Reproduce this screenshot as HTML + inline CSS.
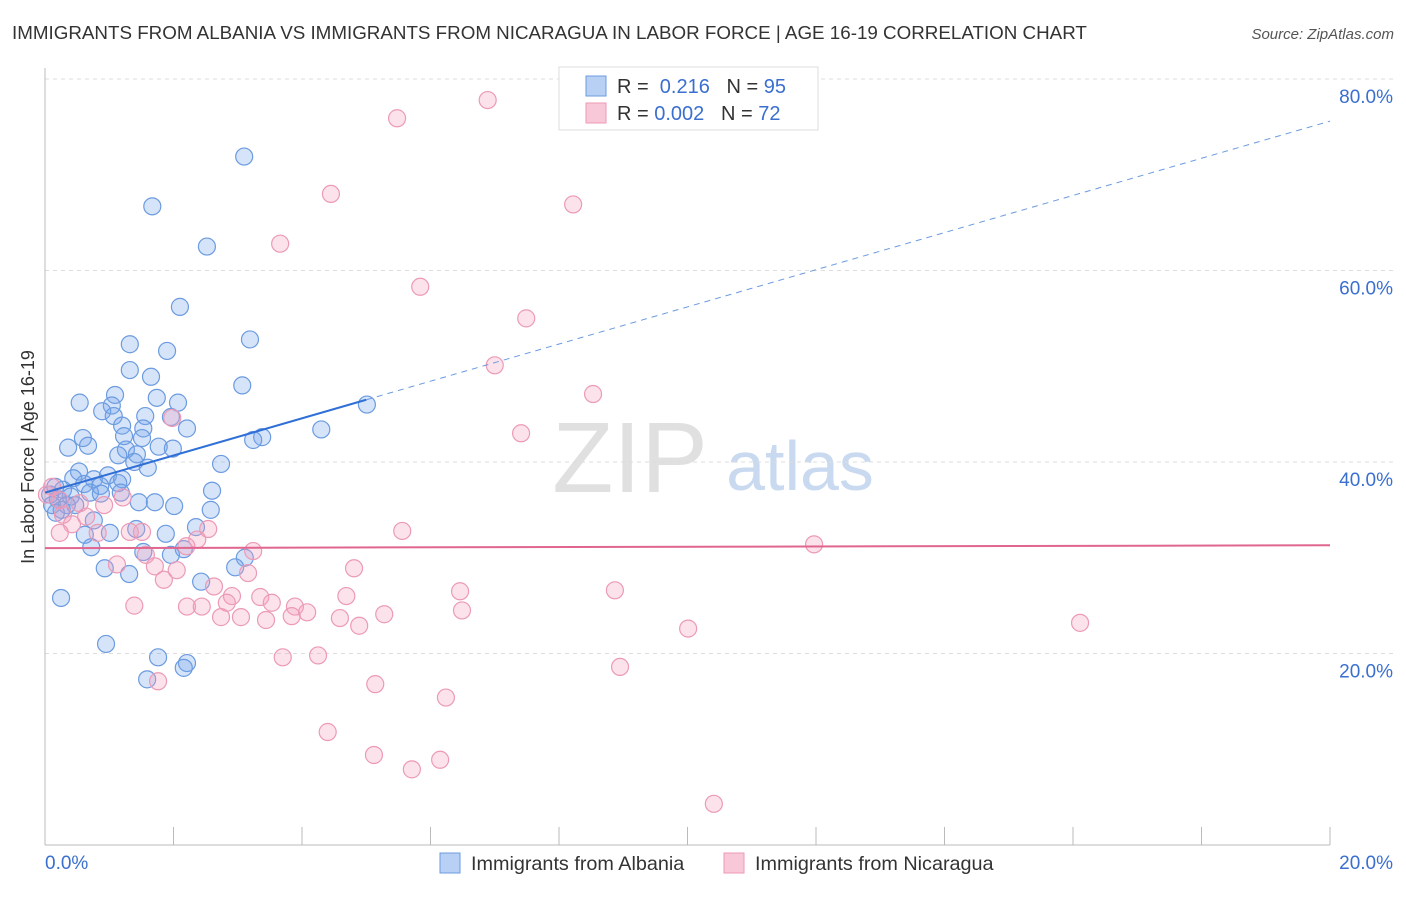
<!DOCTYPE html>
<html><head><meta charset="utf-8">
<style>
body{margin:0;background:#fff;font-family:"Liberation Sans",sans-serif;}
svg text{font-family:"Liberation Sans",sans-serif;}
</style></head>
<body>
<svg id="chart" width="1406" height="892" xmlns="http://www.w3.org/2000/svg">
<text x="12" y="39" font-size="18.8" fill="#333">IMMIGRANTS FROM ALBANIA VS IMMIGRANTS FROM NICARAGUA IN LABOR FORCE | AGE 16-19 CORRELATION CHART</text>
<text x="1394" y="39" font-size="15" fill="#555" font-style="italic" text-anchor="end">Source: ZipAtlas.com</text>
<text x="630" y="492" font-size="100" fill="#e0e0e0" font-family="Liberation Serif" text-anchor="middle">ZIP</text>
<text x="800" y="490" font-size="70" fill="#c9daf0" text-anchor="middle">atlas</text>
<g id="grid"></g><g id="axes"></g><g id="marks"></g>
<text transform="translate(34,457) rotate(-90)" font-size="18" fill="#333" text-anchor="middle">In Labor Force | Age 16-19</text>
<g>
<rect x="559" y="67" width="259" height="63" fill="#fff" stroke="#ddd"/>
<rect x="586" y="76" width="20" height="20" fill="#b8d0f4" stroke="#6b9be0"/>
<rect x="586" y="103" width="20" height="20" fill="#f9c8d8" stroke="#ec9ab6"/>
<text x="617" y="93" font-size="20" fill="#333">R = <tspan fill="#3a6fd0">&#160;0.216</tspan>&#160;&#160;&#160;N = <tspan fill="#3a6fd0">95</tspan></text>
<text x="617" y="120" font-size="20" fill="#333">R = <tspan fill="#3a6fd0">0.002</tspan>&#160;&#160;&#160;N = <tspan fill="#3a6fd0">72</tspan></text>
</g>
<g>
<rect x="440" y="853" width="20" height="20" fill="#b8d0f4" stroke="#6b9be0"/>
<text x="471" y="870" font-size="19.8" fill="#333">Immigrants from Albania</text>
<rect x="724" y="853" width="20" height="20" fill="#f9c8d8" stroke="#ec9ab6"/>
<text x="755" y="870" font-size="19.8" fill="#333">Immigrants from Nicaragua</text>
</g>
</svg>
<script>
const xTicks=[0,2,4,6,8,10,12,14,16,18,20];
const yTicks=[20,40,60,80];
const yTickLabels=["20.0%","40.0%","60.0%","80.0%"];
const albaniaX=[3.10,1.67,2.52,2.10,1.32,3.19,1.90,1.32,1.65,3.07,1.09,1.74,0.54,1.04,2.07,0.89,5.01,1.56,1.96,1.07,1.20,1.53,2.21,4.30,1.23,1.51,0.59,3.38,3.24,0.67,0.36,1.77,1.99,1.26,1.14,1.43,1.39,1.60,2.74,0.53,0.44,0.98,0.76,1.20,0.61,0.86,1.14,0.16,0.28,2.60,0.70,1.18,0.87,0.08,0.40,0.20,1.46,1.71,2.01,0.34,0.11,0.26,0.47,2.58,0.17,0.76,2.35,1.42,1.88,0.62,1.01,0.72,2.16,1.53,1.96,3.11,0.93,2.96,1.31,2.43,0.25,0.95,1.76,2.21,2.16,1.59];
const albaniaY=[71.9,66.7,62.5,56.2,52.3,52.8,51.6,49.6,48.9,48.0,47.0,46.7,46.2,45.9,46.2,45.3,46.0,44.8,44.7,44.8,43.8,43.5,43.5,43.4,42.7,42.5,42.5,42.6,42.3,41.7,41.5,41.6,41.4,41.3,40.7,40.8,40.0,39.4,39.8,39.0,38.3,38.6,38.2,38.2,37.7,37.5,37.8,37.4,37.1,37.0,36.8,36.8,36.7,36.6,36.4,36.1,35.8,35.8,35.4,35.5,35.5,35.0,35.5,35.0,34.7,33.9,33.2,33.0,32.5,32.4,32.6,31.1,30.9,30.6,30.3,30.0,28.9,29.0,28.3,27.5,25.8,21.0,19.6,19.0,18.5,17.3];
const nicaraguaX=[6.89,5.48,4.45,8.22,3.66,5.84,7.49,7.00,8.53,7.41,1.98,0.11,0.03,0.23,0.54,0.92,1.21,0.28,0.64,0.42,0.23,0.82,1.32,1.51,2.54,2.37,5.56,11.97,2.20,3.24,1.57,1.12,1.71,2.05,4.81,3.16,1.85,2.63,6.46,8.87,2.91,3.35,4.69,3.53,2.83,1.39,2.21,2.44,3.89,6.49,4.08,5.28,3.84,4.59,2.74,3.05,3.44,4.89,16.11,10.01,3.70,4.25,8.95,1.76,5.14,6.24,4.40,5.12,6.15,5.71,10.41];
const nicaraguaY=[77.8,75.9,68.0,66.9,62.8,58.3,55.0,50.1,47.1,43.0,44.6,37.4,36.6,36.0,35.7,35.5,36.3,34.5,34.3,33.5,32.6,32.6,32.7,32.7,33.0,31.9,32.8,31.4,31.2,30.7,30.3,29.3,29.1,28.7,28.9,28.4,27.7,27.0,26.5,26.6,26.0,25.9,26.0,25.3,25.3,25.0,24.9,24.9,24.9,24.5,24.3,24.1,23.9,23.7,23.8,23.8,23.5,22.9,23.2,22.6,19.6,19.8,18.6,17.1,16.8,15.4,11.8,9.4,8.9,7.9,4.3];
const blueTrend=[36.8,75.6]; const blueSolidEnd=5.0;
const pinkTrend=[31.0,31.3];
const NS="http://www.w3.org/2000/svg";
const X=v=>45+v*64.25, Y=v=>845-v*9.575;
function mk(p,t,a){const e=document.createElementNS(NS,t);for(const k in a)e.setAttribute(k,a[k]);p.appendChild(e);return e;}
const grid=document.getElementById('grid'),axes=document.getElementById('axes'),marks=document.getElementById('marks');
yTicks.forEach((v,i)=>{
 const l=mk(grid,'line',{x1:45,x2:1393,y1:Y(v),y2:Y(v),stroke:'#ddd','stroke-dasharray':'4,4'});
 
 
 const t=mk(axes,'text',{x:1393,y:Y(v)+24,'font-size':19,fill:'#3a6fd0','text-anchor':'end'});
 t.textContent=yTickLabels[i];
 
 
});
const ax=mk(axes,'line',{x1:45,x2:1330,y1:845,y2:845,stroke:'#bbb'});


const ay=mk(axes,'line',{x1:45,x2:45,y1:68,y2:845,stroke:'#bbb'});


xTicks.forEach(v=>{
 const t=mk(axes,'line',{x1:X(v),x2:X(v),y1:827,y2:845,stroke:'#bbb'});
 
 
});
const xl0=mk(axes,'text',{x:45,y:869,'font-size':19,fill:'#3a6fd0'});xl0.textContent='0.0%';


const xl1=mk(axes,'text',{x:1393,y:869,'font-size':19,fill:'#3a6fd0','text-anchor':'end'});xl1.textContent='20.0%';


albaniaX.forEach((x,i)=>{
 const c=mk(marks,'circle',{cx:X(x),cy:Y(albaniaY[i]),r:8.5,fill:'rgba(120,165,235,0.3)',stroke:'#6b9be0','stroke-width':1.2});
 
 
});
nicaraguaX.forEach((x,i)=>{
 const c=mk(marks,'circle',{cx:X(x),cy:Y(nicaraguaY[i]),r:8.5,fill:'rgba(245,160,190,0.3)',stroke:'#ec9ab6','stroke-width':1.2});
 
 
});
const bAt=x=>blueTrend[0]+(blueTrend[1]-blueTrend[0])*x/20;
const b1=mk(marks,'line',{x1:X(0),y1:Y(bAt(0)),x2:X(blueSolidEnd),y2:Y(bAt(blueSolidEnd)),stroke:'#2f6fd6','stroke-width':2});


const b2=mk(marks,'line',{x1:X(blueSolidEnd),y1:Y(bAt(blueSolidEnd)),x2:X(20),y2:Y(bAt(20)),stroke:'#6b9be0','stroke-width':1,'stroke-dasharray':'6,5'});


const p1=mk(marks,'line',{x1:X(0),y1:Y(pinkTrend[0]),x2:X(20),y2:Y(pinkTrend[1]),stroke:'#e0668f','stroke-width':2});


</script>
</body></html>
